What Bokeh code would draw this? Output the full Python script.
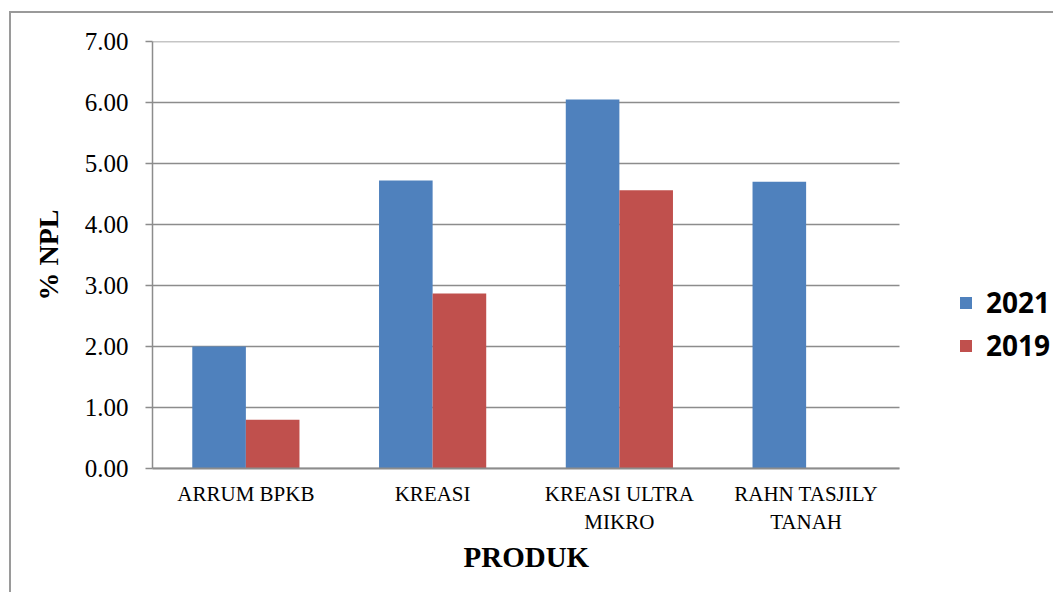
from bokeh.plotting import figure
from bokeh.models import Range1d, Legend, LegendItem, FixedTicker, NumeralTickFormatter, Title
from bokeh.embed import file_html
from bokeh.resources import INLINE

categories = ["ARRUM BPKB", "KREASI", "KREASI ULTRA MIKRO", "RAHN TASJILY TANAH"]
tick_labels = ["ARRUM BPKB", "KREASI", "KREASI ULTRA\nMIKRO", "RAHN TASJILY\nTANAH"]
series_names = ["2021", "2019"]
values_2021 = [2.00, 4.72, 6.05, 4.70]
values_2019 = [0.80, 2.87, 4.56, 0.00]
y_ticks = [0, 1, 2, 3, 4, 5, 6, 7]

BLUE = "#4F81BD"
RED = "#C0504D"
GRID = "#8c8c8c"
SERIF = "Liberation Serif"

n = len(categories)
centers = [i + 0.5 for i in range(n)]
bw = 0.287
x_2021 = [c - bw / 2 for c in centers]
x_2019 = [c + bw / 2 for c in centers]

# host is offset by CSS margin (9, 11) plus a 2px left/top border -> content starts at (11, 13)
# the frame runs to the right edge so the legend can sit inside it; the category area is 0..n
p = figure(width=1044, height=581, x_range=Range1d(0, n * 903 / 747), y_range=Range1d(0, 7),
           output_backend="svg", toolbar_location=None,
           min_border_left=141, min_border_right=0, min_border_top=28, min_border_bottom=126)
p.outline_line_color = None
p.background_fill_color = "white"
p.border_fill_color = "white"
p.styles = {"margin-left": "9px", "margin-top": "11px",
            "border-left": "2px solid #9a9a9a", "border-top": "2px solid #9a9a9a"}

# horizontal grid lines over the category area only
p.segment(x0=[0] * len(y_ticks), x1=[n] * len(y_ticks), y0=y_ticks, y1=y_ticks,
          line_color=GRID, line_width=1.5)

r1 = p.vbar(x=x_2021, top=values_2021, width=bw, fill_color=BLUE, line_color=None)
r2 = p.vbar(x=x_2019, top=values_2019, width=bw, fill_color=RED, line_color=None)

p.xgrid.grid_line_color = None
p.ygrid.grid_line_color = None

# y axis
p.yaxis.ticker = FixedTicker(ticks=y_ticks)
p.yaxis.formatter = NumeralTickFormatter(format="0.00")
p.yaxis.axis_line_color = GRID
p.yaxis.axis_line_width = 1.5
p.yaxis.major_tick_line_color = GRID
p.yaxis.major_tick_line_width = 1.5
p.yaxis.major_tick_out = 7
p.yaxis.major_tick_in = 0
p.yaxis.minor_tick_line_color = None
p.yaxis.major_label_text_font = SERIF
p.yaxis.major_label_text_font_size = "25px"
p.yaxis.major_label_text_color = "black"
p.yaxis.major_label_standoff = 17
p.yaxis.axis_label = "% NPL"
p.yaxis.axis_label_text_font = SERIF
p.yaxis.axis_label_text_font_size = "28px"
p.yaxis.axis_label_text_font_style = "bold"
p.yaxis.axis_label_text_color = "black"
p.yaxis.axis_label_standoff = 18

# x axis
p.xaxis.bounds = (0, n)
p.xaxis.ticker = FixedTicker(ticks=centers)
p.xaxis.major_label_overrides = dict(zip(centers, tick_labels))
p.xaxis.axis_line_color = GRID
p.xaxis.axis_line_width = 2
p.xaxis.major_tick_line_color = None
p.xaxis.major_tick_out = 0
p.xaxis.major_tick_in = 0
p.xaxis.minor_tick_line_color = None
p.xaxis.major_label_text_font = SERIF
p.xaxis.major_label_text_font_size = "21px"
p.xaxis.major_label_text_color = "black"
p.xaxis.major_label_standoff = 13

# x axis title, centred under the category area (not the whole frame)
xtitle = Title(text="PRODUK", align="left", offset=311, standoff=2,
               text_font=SERIF, text_font_size="29px", text_font_style="bold", text_color="black")
p.add_layout(xtitle, "below")

legend = Legend(items=[LegendItem(label=series_names[0], renderers=[r1]),
                       LegendItem(label=series_names[1], renderers=[r2])],
                location=(806, 104))
legend.padding = 0
legend.margin = 0
legend.border_line_color = None
legend.background_fill_alpha = 0
legend.glyph_width = 15
legend.glyph_height = 15
legend.label_standoff = 13
legend.spacing = 5
legend.label_text_font = "Open Sans"
legend.label_text_font_style = "bold"
legend.label_text_font_size = "28px"
legend.label_text_color = "black"
p.add_layout(legend, "center")

open("out.html", "w").write(file_html(p, INLINE))
